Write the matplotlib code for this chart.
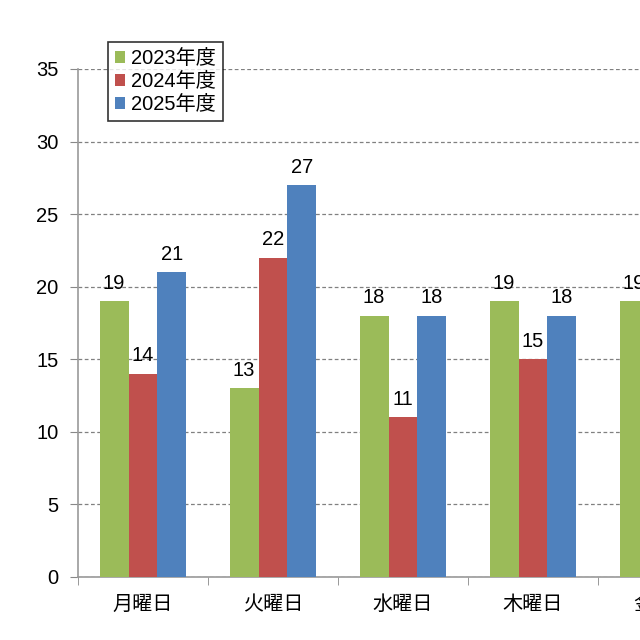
import matplotlib
matplotlib.use("Agg")
import matplotlib.pyplot as plt
import numpy as np

plt.rcParams['font.family'] = ['Liberation Sans', 'Noto Sans CJK JP']

# data (金曜日 is cut off at the right edge; only the green bar is visible)
days = ["月曜日", "火曜日", "水曜日", "木曜日", "金曜日"]
y2023 = [19, 13, 18, 19, 19]
y2024 = [14, 22, 11, 15, np.nan]
y2025 = [21, 27, 18, 18, np.nan]
series = ["2023年度", "2024年度", "2025年度"]
colors = ["#9BBB59", "#C0504D", "#4F81BD"]

fig = plt.figure(figsize=(6.4, 6.4), dpi=100)
# axes run past the right edge of the figure, like the cropped original
ax = fig.add_axes([78 / 640, 1 - 577 / 640, 650 / 640, 508 / 640])

x = np.arange(len(days))
w = 0.223
for i, (vals, name, c) in enumerate(zip([y2023, y2024, y2025], series, colors)):
    pos = x + (i - 1) * w
    ax.bar(pos, vals, width=w, color=c, label=name, zorder=3)
    for p, v in zip(pos, vals):
        if not np.isnan(v):
            ax.annotate(f"{v:.0f}", (p, v), xytext=(0, 6), textcoords="offset points",
                        ha="center", va="bottom", fontsize=14.5, zorder=4)

ax.set_ylim(0, 35)
ax.set_yticks(range(0, 36, 5))
ax.set_xlim(-0.5, len(days) - 0.5)
ax.set_xticks(x)
ax.set_xticklabels(days, fontsize=14.5)
ax.set_xticks(np.arange(-0.5, len(days), 1), minor=True)
ax.tick_params(axis="x", which="major", length=0, pad=13)
ax.tick_params(axis="x", which="minor", length=6, color="#888888", direction="out")
ax.tick_params(axis="y", length=6, color="#888888", labelsize=14.5, pad=8)

ax.grid(axis="y", color="#808080", linestyle=(0, (3, 2)), linewidth=0.9, zorder=0)
for s in ["top", "right"]:
    ax.spines[s].set_visible(False)
for s in ["left", "bottom"]:
    ax.spines[s].set_color("#999999")
    ax.spines[s].set_linewidth(1.2)

leg = fig.legend(loc="upper left", bbox_to_anchor=(108 / 640, 1 - 42 / 640),
                 fontsize=14.5, frameon=True, fancybox=False, handlelength=0.5,
                 handleheight=0.5, handletextpad=0.3, borderpad=0.35, labelspacing=0.2,
                 borderaxespad=0)
leg.get_frame().set_edgecolor("black")
leg.get_frame().set_linewidth(1.2)

fig.savefig("out.png", dpi=100)
